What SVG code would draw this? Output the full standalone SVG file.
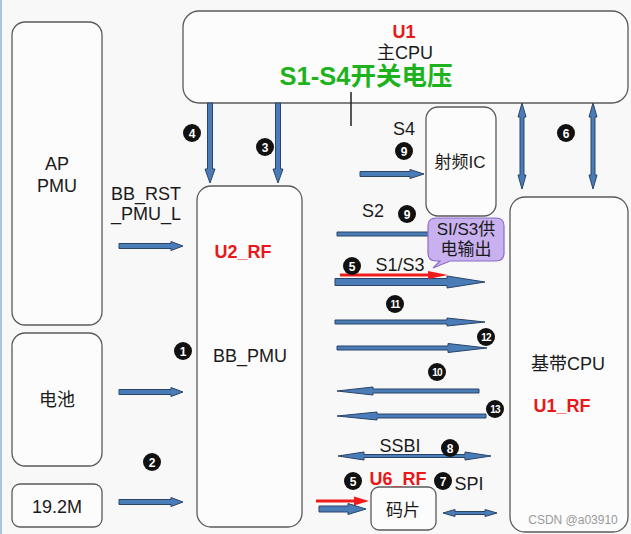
<svg xmlns="http://www.w3.org/2000/svg" width="631" height="534" viewBox="0 0 631 534">
<style>
text{font-family:"Liberation Sans","Noto Sans CJK SC",sans-serif;fill:#1a1a1a}
.box{fill:#fcfcfc;stroke:#5a5a5a;stroke-width:1.3}
.lbl{font-size:18px;text-anchor:middle}
.red{font-size:18px;font-weight:bold;fill:#e8191a;text-anchor:middle}
.arr{fill:#4a7cb8;stroke:#2a4468;stroke-width:1}
.num circle{fill:#111}
.num text{fill:#fff;font-size:12px;font-weight:bold;text-anchor:middle}
.num2 text{font-size:10px;letter-spacing:-0.9px}
</style>
<rect width="631" height="534" fill="#f8f8f8"/>
<line x1="1" y1="0" x2="1" y2="534" stroke="#a9c3e3" stroke-width="2"/>

<g id="u1"><rect class="box" x="183" y="11" width="445" height="92" rx="16"/>
<text class="red" x="404" y="38" font-size="17">U1</text>
<text class="lbl" x="405" y="59" font-size="16">主CPU</text>
<text x="366" y="85" font-size="25.5" font-weight="bold" text-anchor="middle" style="fill:#1eb31e">S1-S4开关电压</text>
</g>
<g id="ap-pmu"><rect class="box" x="12" y="22" width="90" height="303" rx="13"/>
<text class="lbl" x="57" y="170">AP</text><text class="lbl" x="57" y="192">PMU</text></g>
<g id="battery"><rect class="box" x="12" y="333" width="90" height="133" rx="13"/>
<text class="lbl" x="57" y="406">电池</text></g>
<g id="xtal"><rect class="box" x="12" y="484" width="90" height="43" rx="8"/>
<text class="lbl" x="57" y="513">19.2M</text></g>
<g id="u2"><rect class="box" x="197" y="186" width="105" height="341" rx="14"/>
<text class="red" x="243" y="258">U2_RF</text>
<text class="lbl" x="250" y="362">BB_PMU</text></g>
<g id="rfic"><rect class="box" x="426" y="107" width="70" height="109" rx="12"/>
<text x="460" y="168" font-size="17" text-anchor="middle">射频IC</text></g>
<g id="bbcpu"><rect class="box" x="510" y="197" width="118" height="335" rx="15"/>
<text class="lbl" x="568" y="370">基带CPU</text>
<text class="red" x="562" y="412">U1_RF</text>
<text x="573" y="524" font-size="12" text-anchor="middle" style="fill:#9a9a9a">CSDN @a03910</text></g>
<g id="chip"><rect class="box" x="371" y="487" width="65" height="43" rx="8"/>
<text x="403" y="516" font-size="17" text-anchor="middle">码片</text></g>

<g id="connectors">
<line x1="351" y1="92" x2="351" y2="126" stroke="#222" stroke-width="1.5"/>
<polygon class="arr" points="207.5,103 212.5,103 212.5,169 215,169 210,183 205,169 207.5,169"/>
<polygon class="arr" points="275.5,103 280.5,103 280.5,169 283,169 278,183 273,169 275.5,169"/>
<polygon class="arr" points="522,103 526,117 524,117 524,175 526,175 522,189 518,175 520,175 520,117 518,117"/>
<polygon class="arr" points="593,103 597,117 595,117 595,175 597,175 593,189 589,175 591,175 591,117 589,117"/>
<polygon class="arr" points="119,243.5 171,243.5 171,241.5 183,246 171,250.5 171,248.5 119,248.5"/>
<polygon class="arr" points="119,389.5 171,389.5 171,387.5 183,392 171,396.5 171,394.5 119,394.5"/>
<polygon class="arr" points="119,499.5 171,499.5 171,497.5 183,502 171,506.5 171,504.5 119,504.5"/>
<polygon class="arr" points="360,171.5 410,171.5 410,169.5 424,174 410,178.5 410,176.5 360,176.5"/>
<polygon class="arr" points="337,232 440,232 440,236 337,236"/>
<polygon class="arr" points="335,278.5 447,278.5 447,276 485,282 447,288 447,285.5 335,285.5"/>
<line x1="340" y1="275" x2="430" y2="275" stroke="#f01c1c" stroke-width="3"/>
<polygon points="428,271 448,275 428,279" fill="#f01c1c"/>
<polygon class="arr" points="335,320 447,320 447,318 485,322 447,326 447,324 335,324"/>
<polygon class="arr" points="337,346 448,346 448,343.5 487,348 448,352.5 448,350 337,350"/>
<polygon class="arr" points="479,389 373,389 373,387 337,391 373,395 373,393 479,393"/>
<polygon class="arr" points="486,414 377,414 377,412 337,416 377,420 377,418 486,418"/>
<polygon class="arr" points="338,456 364,452 364,454.5 465,454.5 465,452 491,456 465,460 465,457.5 364,457.5 364,460"/>
<polygon class="arr" points="443,513 455,509.5 455,511.5 485,511.5 485,509.5 497,513 485,516.5 485,514.5 455,514.5 455,516.5"/>
<line x1="316" y1="501" x2="356" y2="501" stroke="#f01c1c" stroke-width="3"/>
<polygon points="354,496.5 369,501 354,505.5" fill="#f01c1c"/>
<polygon class="arr" points="319,506 348,506 348,503.5 366,509 348,514.5 348,512 319,512"/>
</g>

<g id="callout">
<path d="M436,218 H496 Q504,218 504,226 V253 Q504,261 496,261 H450 L433,268 L440,261 H436 Q428,261 428,253 V226 Q428,218 436,218 Z" fill="#c9b1f0" stroke="#8b6cc6" stroke-width="1.2"/>
<text x="466" y="235" font-size="17" text-anchor="middle">SI/S3供</text>
<text x="466" y="255" font-size="17" text-anchor="middle">电输出</text>
</g>

<g id="labels">
<text class="lbl" x="146" y="200">BB_RST</text>
<text class="lbl" x="146" y="220">_PMU_L</text>
<text class="lbl" x="404" y="135" font-size="17">S4</text>
<text class="lbl" x="373" y="217" font-size="17">S2</text>
<text class="lbl" x="400" y="271" font-size="17">S1/S3</text>
<text class="lbl" x="400" y="452" font-size="17">SSBI</text>
<text class="red" x="398" y="485">U6_RF</text>
<text class="lbl" x="469" y="490" font-size="17">SPI</text>
</g>

<g id="numbers">
<g class="num"><circle cx="192" cy="133" r="9"/><text x="192" y="137.5">4</text></g>
<g class="num"><circle cx="265" cy="147" r="9"/><text x="265" y="151.5">3</text></g>
<g class="num"><circle cx="404" cy="151" r="9"/><text x="404" y="155.5">9</text></g>
<g class="num"><circle cx="407" cy="214" r="9"/><text x="407" y="218.5">9</text></g>
<g class="num"><circle cx="352" cy="266" r="9"/><text x="352" y="270.5">5</text></g>
<g class="num num2"><circle cx="395" cy="304" r="9"/><text x="395" y="307.5">11</text></g>
<g class="num num2"><circle cx="486" cy="337" r="9"/><text x="486" y="340.5">12</text></g>
<g class="num num2"><circle cx="437" cy="372" r="9"/><text x="437" y="375.5">10</text></g>
<g class="num num2"><circle cx="495" cy="409" r="9"/><text x="495" y="412.5">13</text></g>
<g class="num"><circle cx="450" cy="448" r="9"/><text x="450" y="452.5">8</text></g>
<g class="num"><circle cx="353" cy="481" r="9"/><text x="353" y="485.5">5</text></g>
<g class="num"><circle cx="443" cy="481" r="9"/><text x="443" y="485.5">7</text></g>
<g class="num"><circle cx="183" cy="351" r="9"/><text x="183" y="355.5">1</text></g>
<g class="num"><circle cx="152" cy="462" r="9"/><text x="152" y="466.5">2</text></g>
<g class="num"><circle cx="566" cy="133" r="9"/><text x="566" y="137.5">6</text></g>
</g>
</svg>
